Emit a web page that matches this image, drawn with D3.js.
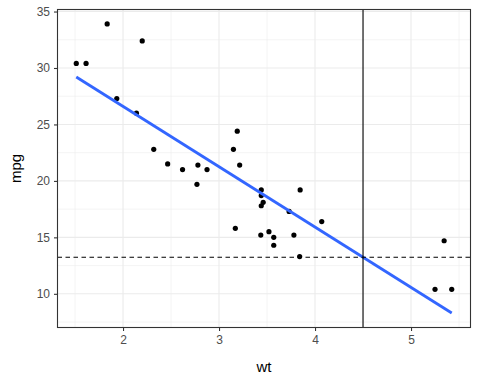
<!DOCTYPE html>
<html><head><meta charset="utf-8">
<script src="https://cdn.jsdelivr.net/npm/d3@7"></script>
<style>body{margin:0;background:#fff}svg{display:block}</style>
</head><body>
<script>
const wt  = [2.620,2.875,2.320,3.215,3.440,3.460,3.570,3.190,3.150,3.440,3.440,4.070,3.730,3.780,5.250,5.424,5.345,2.200,1.615,1.835,2.465,3.520,3.435,3.840,3.845,1.935,2.140,1.513,3.170,2.770,3.570,2.780];
const mpg = [21.0,21.0,22.8,21.4,18.7,18.1,14.3,24.4,22.8,19.2,17.8,16.4,17.3,15.2,10.4,10.4,14.7,32.4,30.4,33.9,21.5,15.5,15.2,13.3,19.2,27.3,26.0,30.4,15.8,19.7,15.0,21.4];
const xTicks = [2,3,4,5];
const yTicks = [10,15,20,25,30,35];
const xMinor = [1.5,2.5,3.5,4.5,5.5];
const yMinor = [7.5,12.5,17.5,22.5,27.5,32.5];
const vlineX = 4.5;

const W=480,H=384;
const L=57.5,R=470.5,T=9.5,B=327.5;
// linear fit
const n=wt.length, mx=d3.mean(wt), my=d3.mean(mpg);
let sxy=0,sxx=0; for(let i=0;i<n;i++){sxy+=(wt[i]-mx)*(mpg[i]-my);sxx+=(wt[i]-mx)**2;}
const slope=sxy/sxx, icpt=my-slope*mx;
const fit=x=>icpt+slope*x;
const hlineY = fit(vlineX);
const [x0,x1]=d3.extent(wt);
const ylo=Math.min(d3.min(mpg),fit(x1)), yhi=Math.max(d3.max(mpg),fit(x0));
const xs=d3.scaleLinear().domain([x0-(x1-x0)*0.05,x1+(x1-x0)*0.05]).range([L,R]);
const ys=d3.scaleLinear().domain([ylo-(yhi-ylo)*0.05,yhi+(yhi-ylo)*0.05]).range([B,T]);

const svg=d3.select("body").append("svg").attr("width",W).attr("height",H)
  .style("font-family","'Liberation Sans',Arial,sans-serif");
svg.append("rect").attr("width",W).attr("height",H).attr("fill","#fff");
const g=svg.append("g");
const xdom=xs.domain(), ydom=ys.domain();
g.selectAll(".xm").data(xMinor.filter(v=>v>xdom[0]&&v<xdom[1])).join("line")
  .attr("x1",d=>xs(d)).attr("x2",d=>xs(d)).attr("y1",T).attr("y2",B).attr("stroke","#ebebeb").attr("stroke-width",0.55);
g.selectAll(".ym").data(yMinor.filter(v=>v>ydom[0]&&v<ydom[1])).join("line")
  .attr("y1",d=>ys(d)).attr("y2",d=>ys(d)).attr("x1",L).attr("x2",R).attr("stroke","#ebebeb").attr("stroke-width",0.55);
g.selectAll(".xM").data(xTicks).join("line")
  .attr("x1",d=>xs(d)).attr("x2",d=>xs(d)).attr("y1",T).attr("y2",B).attr("stroke","#ebebeb").attr("stroke-width",1.1);
g.selectAll(".yM").data(yTicks).join("line")
  .attr("y1",d=>ys(d)).attr("y2",d=>ys(d)).attr("x1",L).attr("x2",R).attr("stroke","#ebebeb").attr("stroke-width",1.1);

// points
g.selectAll("circle").data(wt.map((w,i)=>[w,mpg[i]])).join("circle")
  .attr("cx",d=>xs(d[0])).attr("cy",d=>ys(d[1])).attr("r",2.6).attr("fill","#000");
// fit line
g.append("line").attr("x1",xs(x0)).attr("y1",ys(fit(x0))).attr("x2",xs(x1)).attr("y2",ys(fit(x1)))
  .attr("stroke","#3366FF").attr("stroke-width",2.8);
// ref lines
g.append("line").attr("x1",xs(vlineX)).attr("x2",xs(vlineX)).attr("y1",T).attr("y2",B).attr("stroke","#000").attr("stroke-width",1.1);
g.append("line").attr("x1",L).attr("x2",R).attr("y1",ys(hlineY)).attr("y2",ys(hlineY)).attr("stroke","#000").attr("stroke-width",1.1).attr("stroke-dasharray","4.5,3.5");

// border
svg.append("rect").attr("x",L).attr("y",T).attr("width",R-L).attr("height",B-T).attr("fill","none").attr("stroke","#333").attr("stroke-width",1.1);

// axes
const xa=svg.append("g").attr("transform",`translate(0,${B})`).call(d3.axisBottom(xs).tickValues(xTicks).tickSize(3.5).tickPadding(4).tickFormat(d3.format("d")));
const ya=svg.append("g").attr("transform",`translate(${L},0)`).call(d3.axisLeft(ys).tickValues(yTicks).tickSize(3.5).tickPadding(4).tickFormat(d3.format("d")));
[xa,ya].forEach(a=>{a.select(".domain").remove();a.selectAll(".tick line").attr("stroke","#333").attr("stroke-width",1.1);
  a.selectAll("text").attr("fill","#4d4d4d").style("font-size","12px").style("font-family","'Liberation Sans',Arial,sans-serif");});

svg.append("text").attr("x",(L+R)/2).attr("y",372).attr("text-anchor","middle").style("font-size","15px").text("wt");
svg.append("text").attr("transform",`translate(21,${(T+B)/2}) rotate(-90)`).attr("text-anchor","middle").style("font-size","15px").text("mpg");
</script>
</body></html>
